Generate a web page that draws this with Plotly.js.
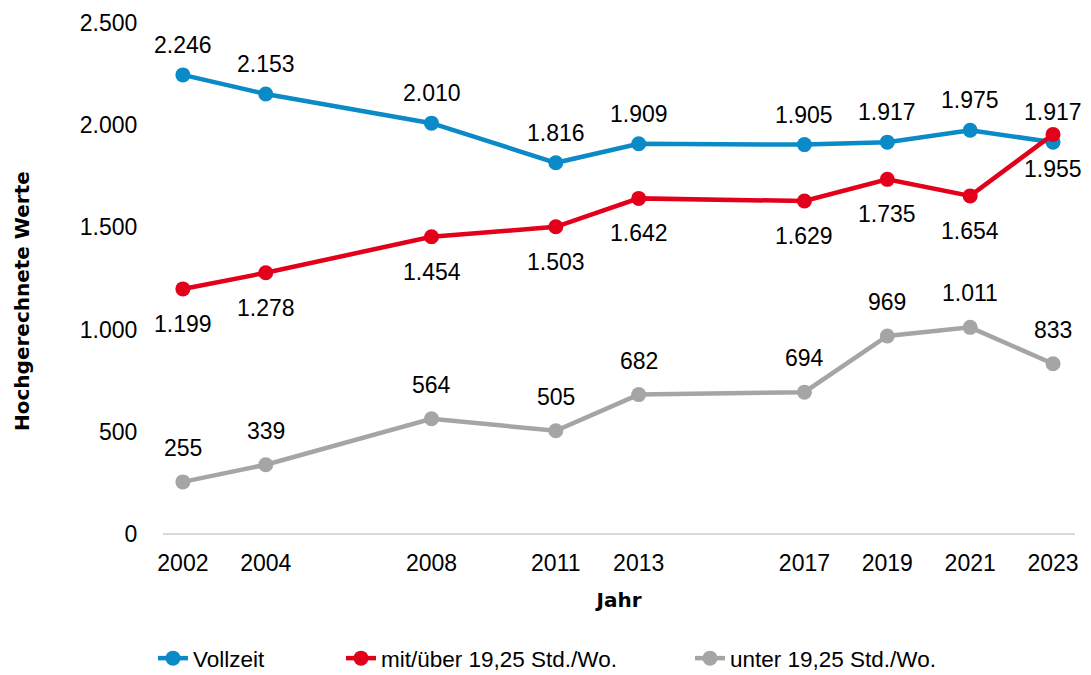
<!DOCTYPE html>
<html>
<head>
<meta charset="utf-8">
<script src="https://cdn.plot.ly/plotly-3.0.1.min.js"></script>
<style>html,body{margin:0;padding:0;background:#fff;}#chart{width:1091px;height:675px;}</style>
</head>
<body>
<div id="chart"></div>
<script>
const years = [2002, 2004, 2008, 2011, 2013, 2017, 2019, 2021, 2023];
const yearLabels = ["2002", "2004", "2008", "2011", "2013", "2017", "2019", "2021", "2023"];
const vollzeit = [2246, 2153, 2010, 1816, 1909, 1905, 1917, 1975, 1917];
const mitUeber = [1199, 1278, 1454, 1503, 1642, 1629, 1735, 1654, 1955];
const unter = [255, 339, 564, 505, 682, 694, 969, 1011, 833];
const seriesNames = ["Vollzeit", "mit/über 19,25 Std./Wo.", "unter 19,25 Std./Wo."];
const yTicks = [0, 500, 1000, 1500, 2000, 2500];

const font = "Liberation Sans, Arial, sans-serif";
const boldFont = "DejaVu Sans, sans-serif";
const colors = ['#0A8AC6', '#E2001A', '#A5A5A5'];
const fmt = v => v.toLocaleString('de-DE');

function trace(y, i, legendId) {
  return {
    x: years, y: y, name: seriesNames[i], type: 'scatter', mode: 'lines+markers',
    line: {color: colors[i], width: 4.5},
    marker: {color: colors[i], size: 15},
    cliponaxis: false, legend: legendId
  };
}
const data = [
  trace(vollzeit, 0, 'legend'),
  trace(mitUeber, 1, 'legend2'),
  trace(unter, 2, 'legend3')
];

const annotations = [];
function addLabels(y, shift) {
  y.forEach((v, k) => annotations.push({
    x: years[k], y: v, xref: 'x', yref: 'y', text: fmt(v), showarrow: false,
    yshift: shift, font: {family: font, size: 23, color: '#000'}
  }));
}
addLabels(vollzeit, 30);
addLabels(mitUeber, -35);
addLabels(unter, 34);

// y-axis title (offset downward like the reference)
annotations.push({
  xref: 'paper', yref: 'paper', x: (22 - 163) / 912, y: (534 - 301) / 511,
  text: '<b>Hochgerechnete Werte</b>', textangle: -90, showarrow: false,
  xanchor: 'center', yanchor: 'middle',
  font: {family: boldFont, size: 20, color: '#000'}
});

const legendBase = {orientation: 'h', y: (534 - 680) / 511, yanchor: 'bottom', xanchor: 'left',
  font: {family: font, size: 22.5, color: '#000'}, bgcolor: 'rgba(0,0,0,0)', itemwidth: 30};

const layout = {
  width: 1091, height: 675,
  separators: ',.',
  margin: {l: 163, r: 16, t: 23, b: 141, autoexpand: false},
  paper_bgcolor: '#fff', plot_bgcolor: '#fff',
  font: {family: font, size: 23, color: '#000'},
  showlegend: true,
  legend: Object.assign({}, legendBase, {x: (153 - 163) / 912}),
  legend2: Object.assign({}, legendBase, {x: (341 - 163) / 912}),
  legend3: Object.assign({}, legendBase, {x: (690 - 163) / 912}),
  annotations: annotations,
  xaxis: {
    range: [2001.52, 2023.53], tickvals: years, ticktext: yearLabels,
    showgrid: false, zeroline: false, showline: false,
    ticks: 'outside', ticklen: 8, tickcolor: 'rgba(0,0,0,0)',
    tickfont: {family: font, size: 23},
    title: {text: 'Jahr', font: {family: boldFont, size: 20, weight: 'bold'}, standoff: 18}
  },
  yaxis: {
    range: [0, 2500], tickvals: yTicks, tickformat: ',',
    showgrid: false, zeroline: true, zerolinecolor: '#D9D9D9', zerolinewidth: 2, showline: false,
    ticks: 'outside', ticklen: 20, tickcolor: 'rgba(0,0,0,0)',
    tickfont: {family: font, size: 23}
  }
};
Plotly.newPlot('chart', data, layout, {displayModeBar: false, staticPlot: true});
</script>
</body>
</html>
